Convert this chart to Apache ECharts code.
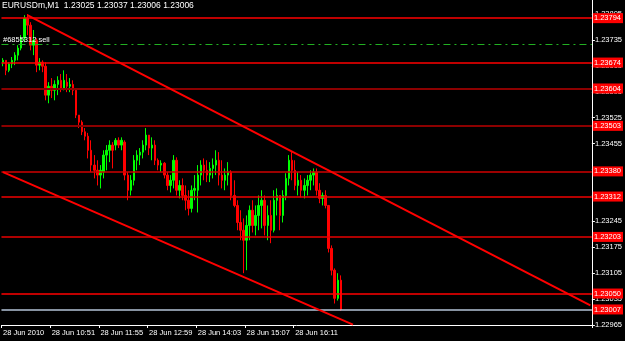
<!DOCTYPE html>
<html><head><meta charset="utf-8">
<script src="https://cdn.jsdelivr.net/npm/echarts@6/dist/echarts.min.js"></script>
<style>html,body{margin:0;padding:0;background:#000;}#c{width:625px;height:341px;}</style>
</head><body><div id="c"></div>
<script>
// ---- text ----
const chartTitle = 'EURUSDm,M1  1.23025 1.23037 1.23006 1.23006';
const orderLabel = '#6855312 sell';
const xTickLabels = ['28 Jun 2010', '28 Jun 10:51', '28 Jun 11:55', '28 Jun 12:59', '28 Jun 14:03', '28 Jun 15:07', '28 Jun 16:11'];
const barsPerTickLabel = 16;
const slotCount = 194;

// ---- price bars (open / close / low / high) ----
const opens = [
1.23675,1.23680,1.23653,1.23670,1.23680,1.23694,1.23713,1.23740,1.23794,1.23775,
1.23721,1.23734,1.23667,1.23675,1.23664,1.23586,1.23610,1.23599,1.23615,1.23626,
1.23605,1.23621,1.23610,1.23615,1.23599,1.23532,1.23513,1.23487,1.23475,1.23437,
1.23397,1.23383,1.23370,1.23378,1.23424,1.23437,1.23451,1.23451,1.23464,1.23451,
1.23459,1.23370,1.23329,1.23356,1.23410,1.23424,1.23432,1.23451,1.23478,1.23443,
1.23451,1.23410,1.23397,1.23402,1.23370,1.23342,1.23356,1.23410,1.23329,1.23342,
1.23315,1.23302,1.23280,1.23329,1.23329,1.23370,1.23397,1.23383,1.23370,1.23388,
1.23397,1.23410,1.23370,1.23356,1.23370,1.23378,1.23315,1.23288,1.23242,1.23221,
1.23194,1.23234,1.23275,1.23234,1.23261,1.23288,1.23302,1.23234,1.23261,1.23221,
1.23302,1.23315,1.23261,1.23315,1.23361,1.23410,1.23383,1.23342,1.23356,1.23329,
1.23342,1.23356,1.23370,1.23378,1.23329,1.23307,1.23315,1.23288,1.23172,1.23113,
1.23037,1.23086];
const closes = [
1.23680,1.23653,1.23670,1.23680,1.23694,1.23713,1.23740,1.23794,1.23775,1.23721,
1.23734,1.23667,1.23675,1.23664,1.23586,1.23610,1.23599,1.23615,1.23626,1.23605,
1.23626,1.23610,1.23615,1.23599,1.23532,1.23513,1.23487,1.23475,1.23437,1.23397,
1.23383,1.23370,1.23383,1.23424,1.23437,1.23451,1.23437,1.23464,1.23451,1.23464,
1.23370,1.23329,1.23356,1.23410,1.23424,1.23432,1.23451,1.23478,1.23443,1.23451,
1.23410,1.23397,1.23402,1.23370,1.23342,1.23356,1.23410,1.23329,1.23342,1.23315,
1.23302,1.23280,1.23329,1.23334,1.23370,1.23397,1.23383,1.23370,1.23388,1.23397,
1.23410,1.23370,1.23356,1.23370,1.23378,1.23315,1.23288,1.23242,1.23221,1.23194,
1.23234,1.23275,1.23234,1.23261,1.23288,1.23302,1.23234,1.23261,1.23221,1.23302,
1.23315,1.23261,1.23315,1.23361,1.23410,1.23383,1.23342,1.23356,1.23329,1.23342,
1.23356,1.23370,1.23378,1.23329,1.23307,1.23315,1.23288,1.23172,1.23113,1.23037,
1.23086,1.23006];
const lows = [
1.23664,1.23640,1.23648,1.23659,1.23667,1.23680,1.23707,1.23729,1.23748,1.23707,
1.23694,1.23648,1.23653,1.23648,1.23572,1.23564,1.23578,1.23572,1.23586,1.23594,
1.23599,1.23594,1.23594,1.23586,1.23524,1.23497,1.23478,1.23464,1.23415,1.23378,
1.23361,1.23342,1.23334,1.23361,1.23383,1.23405,1.23388,1.23437,1.23443,1.23437,
1.23356,1.23302,1.23315,1.23342,1.23383,1.23397,1.23415,1.23437,1.23424,1.23410,
1.23397,1.23383,1.23378,1.23361,1.23329,1.23323,1.23334,1.23315,1.23307,1.23302,
1.23275,1.23261,1.23269,1.23302,1.23269,1.23342,1.23356,1.23351,1.23351,1.23361,
1.23370,1.23342,1.23334,1.23329,1.23342,1.23302,1.23283,1.23221,1.23194,1.23105,
1.23113,1.23194,1.23215,1.23207,1.23221,1.23226,1.23207,1.23194,1.23186,1.23215,
1.23261,1.23221,1.23242,1.23302,1.23342,1.23356,1.23329,1.23315,1.23310,1.23307,
1.23315,1.23329,1.23342,1.23315,1.23294,1.23288,1.23280,1.23161,1.23099,1.23023,
1.23031,1.23003];
const highs = [
1.23686,1.23680,1.23675,1.23689,1.23702,1.23721,1.23748,1.23802,1.23805,1.23783,
1.23762,1.23740,1.23686,1.23680,1.23675,1.23621,1.23632,1.23626,1.23637,1.23643,
1.23653,1.23643,1.23632,1.23626,1.23605,1.23532,1.23518,1.23497,1.23484,1.23464,
1.23424,1.23410,1.23397,1.23437,1.23451,1.23464,1.23459,1.23470,1.23472,1.23472,
1.23464,1.23378,1.23370,1.23424,1.23437,1.23443,1.23464,1.23497,1.23478,1.23472,
1.23464,1.23415,1.23410,1.23405,1.23378,1.23370,1.23424,1.23418,1.23356,1.23361,
1.23342,1.23329,1.23342,1.23370,1.23397,1.23410,1.23415,1.23410,1.23405,1.23415,
1.23437,1.23432,1.23410,1.23388,1.23405,1.23383,1.23356,1.23302,1.23275,1.23253,
1.23261,1.23288,1.23302,1.23288,1.23315,1.23329,1.23315,1.23288,1.23302,1.23329,
1.23334,1.23315,1.23329,1.23375,1.23424,1.23432,1.23410,1.23378,1.23370,1.23361,
1.23370,1.23383,1.23388,1.23388,1.23348,1.23323,1.23329,1.23288,1.23180,1.23118,
1.23105,1.23099];

// ---- horizontal levels ----
const levelPrices = [1.23794, 1.23674, 1.23604, 1.23503, 1.23380, 1.23312, 1.23203, 1.23050];
const levelColors = ['#ff0000', '#ff0000', '#8c0000', '#8c0000', '#d00000', '#f00000', '#e80000', '#ff0000'];
const levelWidths = [1.5, 1.5, 2, 2, 1.5, 1.5, 1.5, 1.5];
const bidPrice = 1.23007;
const orderPrice = 1.23724;

// ---- trend lines [bar index, price] ----
const upperTrend = [[8, 1.23802], [193, 1.23018]];
const lowerTrend = [[0, 1.23378], [115, 1.22966]];

// ---- axis ----
const yMin = 1.22965, yMax = 1.23843, yStep = 0.0007;

const slots = Array.from({length: slotCount}, (_, i) => 's' + i);
const ohlc = opens.map((o, i) => [o, closes[i], lows[i], highs[i]]);
const FONT = 'Liberation Sans, Arial, sans-serif';

const priceLabel = (p) => ({
  show: true, position: 'end', distance: 1,
  formatter: p.toFixed(5), color: '#ffffff', backgroundColor: '#ff0000',
  fontSize: 7.5, fontFamily: FONT, padding: [1, 2, 0, 1], lineHeight: 9
});

const markData = [];
markData.push({yAxis: orderPrice, lineStyle: {color: '#22b022', width: 1, type: [7, 4, 2, 4]}, label: {show: false}});
levelPrices.forEach((p, i) => markData.push({
  yAxis: p,
  lineStyle: {color: levelColors[i], width: levelWidths[i], type: 'solid'},
  label: priceLabel(p)
}));
markData.push({yAxis: bidPrice, lineStyle: {color: '#b4c4d8', width: 1.5, type: 'solid'}, label: priceLabel(bidPrice)});
[upperTrend, lowerTrend].forEach(t => {
  markData.push([
    {coord: t[0], lineStyle: {color: '#ff0000', width: 2, type: 'solid'}, label: {show: false}},
    {coord: t[1]}
  ]);
});

const chart = echarts.init(document.getElementById('c'), null, {renderer: 'canvas'});
chart.setOption({
  animation: false,
  backgroundColor: '#000000',
  grid: {left: 0, right: 29, top: 0, bottom: 16, containLabel: false},
  xAxis: {
    type: 'category', data: slots, boundaryGap: true,
    axisLine: {show: true, lineStyle: {color: '#ffffff', width: 1}},
    axisTick: {show: true, length: 3, lineStyle: {color: '#ffffff'},
      interval: (idx) => idx % barsPerTickLabel === 0 && idx / barsPerTickLabel < xTickLabels.length},
    axisLabel: {show: true, color: '#ffffff', fontSize: 7.5, fontFamily: FONT, margin: 4, align: 'left',
      interval: (idx) => idx % barsPerTickLabel === 0 && idx / barsPerTickLabel < xTickLabels.length,
      formatter: (v, idx) => xTickLabels[idx / barsPerTickLabel] || ''},
    splitLine: {show: false}
  },
  yAxis: {
    type: 'value', position: 'right', min: yMin, max: yMax, interval: yStep, scale: true,
    axisLine: {show: true, lineStyle: {color: '#ffffff', width: 1}},
    axisTick: {show: true, length: 3, lineStyle: {color: '#ffffff'}},
    axisLabel: {show: true, color: '#ffffff', fontSize: 7.5, fontFamily: FONT, margin: 3,
      showMaxLabel: false, formatter: (v) => v.toFixed(5)},
    splitLine: {show: false}
  },
  series: [
    {
      type: 'candlestick', data: ohlc, barWidth: 2, z: 2,
      itemStyle: {color: '#00ff00', color0: '#ff0000', borderColor: '#00ff00', borderColor0: '#ff0000', borderWidth: 1}
    },
    {
      type: 'line', data: [], z: 5, silent: true,
      markLine: {silent: true, precision: 5, symbol: ['none', 'none'], animation: false, data: markData}
    }
  ],
  graphic: [
    {type: 'text', left: 2, top: 1, z: 10, style: {text: chartTitle, fill: '#ffffff', font: '8.5px ' + FONT}},
    {type: 'text', left: 3, top: 36, z: 10, style: {text: orderLabel, fill: '#ffffff', font: '7.5px ' + FONT}}
  ]
});
</script></body></html>
